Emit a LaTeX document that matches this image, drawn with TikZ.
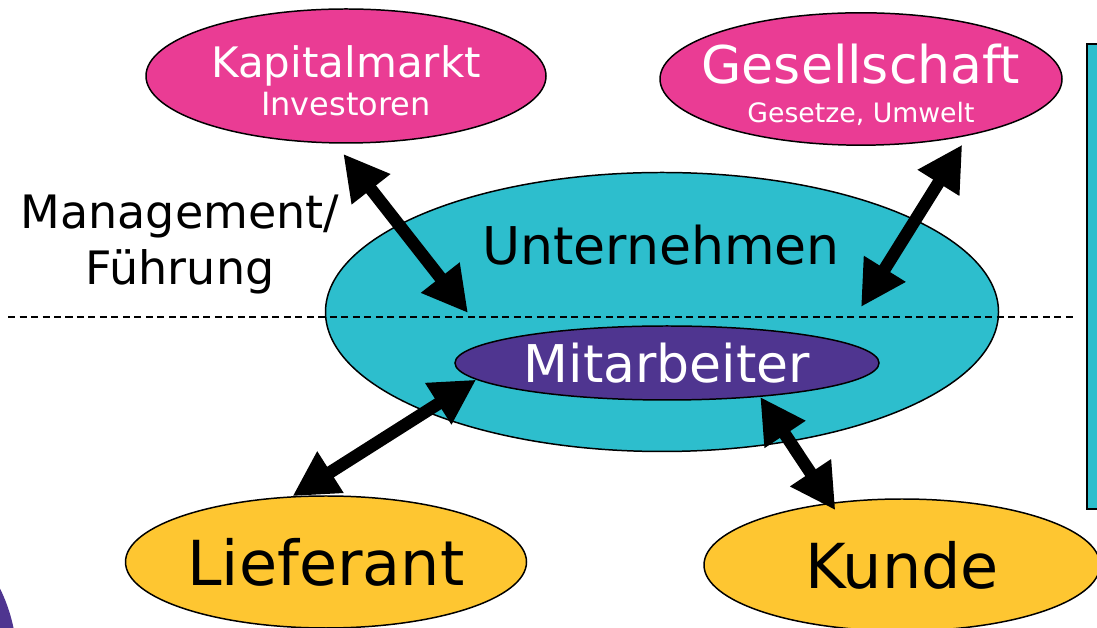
\documentclass[tikz,border=0pt]{standalone}
\usepackage{fontspec}
\setmainfont{DejaVu Sans}
\usetikzlibrary{shapes.geometric,arrows.meta}

\definecolor{pinkfill}{HTML}{EA3C94}
\definecolor{tealfill}{HTML}{2DBECD}
\definecolor{violetfill}{HTML}{4F3590}
\definecolor{goldfill}{HTML}{FEC631}

\tikzset{
  blob/.style={ellipse, draw=black, line width=0.85pt, inner xsep=-0.5cm, inner ysep=0pt},
  twoway/.style={line width=0.25cm, {Triangle[length=0.9cm,width=0.92cm]}-{Triangle[length=0.9cm,width=0.92cm]}},
}

\begin{document}
\begin{tikzpicture}
\useasboundingbox (0,0) rectangle (21.94,12.56);
\clip (0,0) rectangle (21.94,12.56);

% Corner shape and side panel
\fill[violetfill] (-3.0,-0.68) circle (3.34);
\draw[fill=tealfill, line width=1.1pt] (21.74,2.38) rectangle (22.6,11.68);

% Company
\node[blob, fill=tealfill, minimum width=13.46cm, minimum height=5.58cm] (unt) at (13.24,6.32) {};
\node[anchor=base, font=\fontsize{29.6}{35}\selectfont] (untname) at (13.22,7.26) {Unternehmen};

% Dashed guide
\draw[dash pattern=on 0.14cm off 0.09cm, line width=0.7pt] (0.16,6.22) -- (21.48,6.22);

% Staff
\node[blob, fill=violetfill, text=white, minimum width=8.48cm, minimum height=1.48cm,
  font=\fontsize{29.6}{35}\selectfont] (mit) at (13.34,5.30) {Mitarbeiter};

% Outside parties
\node[blob, fill=pinkfill, text=white, align=center, minimum width=8cm, minimum height=2.68cm,
  font=\fontsize{18.2}{21.6}\selectfont] (kap) at (6.92,11.04)
  {{\fontsize{23.9}{28}\selectfont\rule{0pt}{24pt}Kapitalmarkt}\\Investoren};
\node[blob, fill=pinkfill, text=white, align=center, minimum width=8.04cm, minimum height=2.64cm,
  font=\fontsize{15.2}{22.2}\selectfont] (ges) at (17.22,10.98)
  {{\fontsize{29.6}{35}\selectfont\rule{0pt}{29.3pt}Gesellschaft}\\Gesetze, Umwelt};
\node[blob, fill=goldfill, minimum width=8.02cm, minimum height=2.64cm,
  font=\fontsize{35.3}{42}\selectfont] (lie) at (6.52,1.32) {Lieferant};
\node[blob, fill=goldfill, minimum width=7.92cm, minimum height=2.64cm,
  font=\fontsize{35.3}{42}\selectfont] (kun) at (18.04,1.26) {Kunde};

% Side label
\node[align=center, font=\fontsize{26.2}{32.4}\selectfont] (mgmt) at (3.6,7.67) {Management/\\Führung};

% Arrows
\coordinate (mgL) at (9.36,6.30);
\coordinate (mgR) at (17.22,6.42);
\draw[twoway, shorten <=0.26cm] (kap.-99) -- (mgL);
\draw[twoway, shorten <=0.21cm] (ges.-28) -- (mgR);
\draw[twoway] (mit.185) -- (lie.117);
\draw[twoway, shorten >=-0.18cm] (mit.-20) -- (kun.139);
\end{tikzpicture}
\end{document}
